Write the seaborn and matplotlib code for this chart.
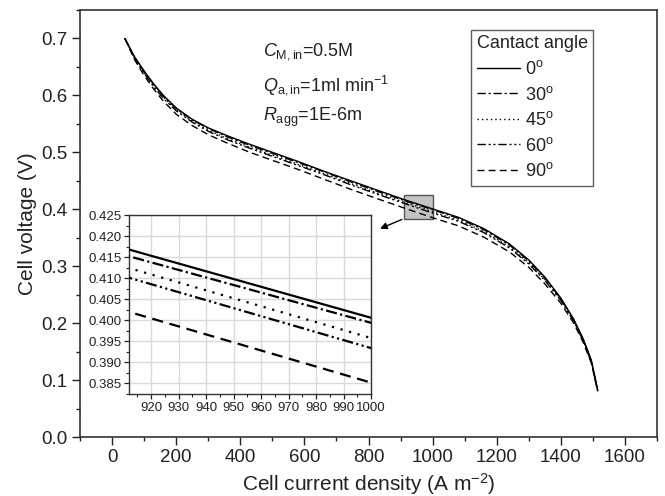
import numpy as np
import pandas as pd
import matplotlib
matplotlib.use("Agg")
import matplotlib.pyplot as plt
from matplotlib.lines import Line2D
from matplotlib.patches import Rectangle, FancyArrowPatch
from matplotlib.ticker import MultipleLocator, FixedLocator, FormatStrFormatter
import seaborn as sns

sns.set_style("ticks")
plt.rcParams["font.family"] = ["Liberation Sans", "DejaVu Sans"]
plt.rcParams["mathtext.fontset"] = "custom"
plt.rcParams["mathtext.rm"] = "Liberation Sans"
plt.rcParams["mathtext.it"] = "Liberation Sans:italic"

# Current density (A m^-2) and cell voltage (V) for each contact angle
current = [40, 70, 100, 130, 160, 200, 250, 300, 360, 430, 500, 580, 660,
           740, 820, 912, 1000, 1080, 1160, 1240, 1300, 1350, 1400, 1440,
           1470, 1495, 1515]
v_0 = [0.700, 0.668, 0.643, 0.620, 0.600, 0.578, 0.558, 0.543, 0.529, 0.514,
       0.500, 0.484, 0.467, 0.451, 0.435, 0.4168, 0.4006, 0.386, 0.366, 0.339,
       0.311, 0.281, 0.244, 0.207, 0.172, 0.135, 0.082]
v_30 = [0.700, 0.667, 0.642, 0.619, 0.599, 0.577, 0.557, 0.542, 0.527, 0.512,
        0.498, 0.482, 0.466, 0.449, 0.433, 0.4152, 0.3994, 0.384, 0.364, 0.337,
        0.309, 0.279, 0.243, 0.206, 0.171, 0.134, 0.082]
v_45 = [0.700, 0.666, 0.640, 0.617, 0.597, 0.575, 0.555, 0.539, 0.524, 0.509,
        0.495, 0.479, 0.463, 0.446, 0.430, 0.4124, 0.3958, 0.381, 0.361, 0.334,
        0.306, 0.277, 0.241, 0.205, 0.170, 0.133, 0.081]
v_60 = [0.700, 0.665, 0.639, 0.615, 0.595, 0.573, 0.553, 0.537, 0.522, 0.507,
        0.493, 0.477, 0.461, 0.444, 0.428, 0.4101, 0.3934, 0.379, 0.359, 0.332,
        0.304, 0.275, 0.240, 0.204, 0.169, 0.132, 0.081]
v_90 = [0.700, 0.663, 0.635, 0.611, 0.590, 0.567, 0.547, 0.531, 0.516, 0.500,
        0.486, 0.470, 0.453, 0.436, 0.420, 0.4020, 0.3852, 0.371, 0.351, 0.325,
        0.298, 0.269, 0.235, 0.200, 0.166, 0.130, 0.080]
angles = ["0$^{\\rm o}$", "30$^{\\rm o}$", "45$^{\\rm o}$", "60$^{\\rm o}$", "90$^{\\rm o}$"]
series = [v_0, v_30, v_45, v_60, v_90]

df = pd.concat([pd.DataFrame({"current": current, "voltage": v, "angle": a})
                for a, v in zip(angles, series)], ignore_index=True)

dash_main = {angles[0]: "",
             angles[1]: (6, 2, 1.5, 2),
             angles[2]: (1, 2.2),
             angles[3]: (6, 2, 1.5, 2, 1.5, 2),
             angles[4]: (5, 3)}

INK = "#222222"
fig = plt.figure(figsize=(6.65, 4.96), dpi=100)
ax = fig.add_axes([80 / 665, 59 / 496, 577 / 665, 427 / 496])

sns.lineplot(data=df, x="current", y="voltage", style="angle", dashes=dash_main,
             color="black", linewidth=1.0, legend=False, ax=ax, sort=False,
             estimator=None, zorder=3)

ax.set_xlim(-100, 1700)
ax.set_ylim(0.0, 0.75)
ax.xaxis.set_major_locator(MultipleLocator(200))
ax.xaxis.set_minor_locator(MultipleLocator(100))
ax.yaxis.set_major_locator(FixedLocator([0.0, 0.1, 0.2, 0.3, 0.4, 0.5, 0.6, 0.7]))
ax.yaxis.set_minor_locator(MultipleLocator(0.05))
ax.yaxis.set_major_formatter(FormatStrFormatter("%.1f"))
ax.tick_params(which="major", direction="out", length=6, width=1.0,
               labelsize=13.5, colors=INK, top=False, right=False, pad=3)
ax.tick_params(which="minor", direction="out", length=3, width=1.0,
               top=False, right=False, colors=INK)
for s in ax.spines.values():
    s.set_visible(True)
    s.set_linewidth(1.2)
    s.set_color("#333333")
ax.set_xlabel("Cell current density (A m$^{-2}$)", fontsize=15, color=INK, labelpad=3)
ax.set_ylabel("Cell voltage (V)", fontsize=15, color=INK, labelpad=3)

# Zoom window marker and arrow to the inset
ax.add_patch(Rectangle((912, 0.3825), 88, 0.0425, facecolor="#c4c4c4",
                       edgecolor="#555555", linewidth=1.0, zorder=2))
ax.add_patch(FancyArrowPatch((912, 0.384), (828, 0.364), arrowstyle="-|>",
                             mutation_scale=10, color="black", linewidth=1.0,
                             zorder=4))

# Operating conditions
ax.text(0.318, 0.902, r"$C_{\rm M,in}$=0.5M", transform=ax.transAxes,
        fontsize=13, color=INK, va="center")
ax.text(0.318, 0.824, r"$Q_{\rm a,in}$=1ml min$^{-1}$", transform=ax.transAxes,
        fontsize=13, color=INK, va="center")
ax.text(0.318, 0.748, r"$R_{\rm agg}$=1E-6m", transform=ax.transAxes,
        fontsize=13, color=INK, va="center")

# Legend
handles = [Line2D([], [], color="black", linewidth=1.0,
                  linestyle=(0, dash_main[a]) if dash_main[a] else "-")
           for a in angles]
leg = ax.legend(handles, angles, title="Cantact angle", loc="upper left",
                bbox_to_anchor=(0.678, 0.953), frameon=True, fancybox=False,
                fontsize=13, title_fontsize=13, handlelength=2.4,
                handletextpad=0.3, labelspacing=0.42, borderpad=0.3,
                borderaxespad=0.0)
leg.get_frame().set_edgecolor("#333333")
leg.get_frame().set_linewidth(1.0)
for t in leg.get_texts():
    t.set_color(INK)
leg.get_title().set_color(INK)
leg._legend_box.align = "left"

# Inset with the zoomed region
ins = fig.add_axes([129 / 665, 102 / 496, 242 / 665, 179 / 496])
dash_inset = {angles[0]: "",
              angles[1]: (5, 1.5, 1, 1.5),
              angles[2]: (1, 3),
              angles[3]: (5, 1.5, 1, 1.5, 1, 1.5),
              angles[4]: (5, 3)}
sns.lineplot(data=df, x="current", y="voltage", style="angle", dashes=dash_inset,
             color="black", linewidth=1.6, legend=False, ax=ins, sort=False,
             estimator=None, zorder=3)
ins.set_xlim(912, 1000)
ins.set_ylim(0.3825, 0.425)
ins.xaxis.set_major_locator(FixedLocator(np.arange(920, 1001, 10)))
ins.xaxis.set_minor_locator(MultipleLocator(5))
ins.yaxis.set_major_locator(FixedLocator(np.arange(0.385, 0.4251, 0.005)))
ins.yaxis.set_minor_locator(MultipleLocator(0.0025))
ins.yaxis.set_major_formatter(FormatStrFormatter("%.3f"))
ins.grid(True, which="major", color="#d9d9d9", linewidth=1.0)
ins.set_axisbelow(True)
ins.tick_params(which="major", direction="out", length=3.5, width=0.9,
                labelsize=9.5, colors=INK, pad=2)
ins.tick_params(which="minor", direction="out", length=2, width=0.8, colors=INK)
ins.set_xlabel("")
ins.set_ylabel("")
for s in ins.spines.values():
    s.set_visible(True)
    s.set_linewidth(1.0)
    s.set_color("#333333")

fig.savefig("out.png", dpi=100)
